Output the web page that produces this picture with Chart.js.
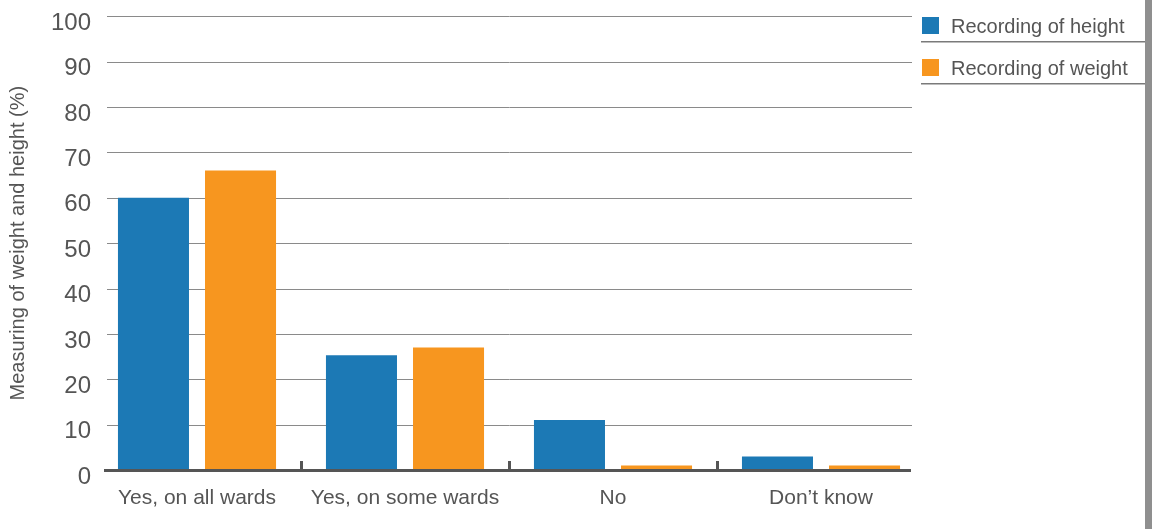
<!DOCTYPE html>
<html>
<head>
<meta charset="utf-8">
<script src="https://cdn.jsdelivr.net/npm/chart.js@4"></script>
<style>
  html, body { margin: 0; padding: 0; background: #fff; }
  #wrap { position: relative; width: 1152px; height: 529px; }
  #sidebar { position: absolute; top: 0; right: 0; width: 7px; height: 529px; background: #8f8f8f; }
</style>
</head>
<body>
<div id="wrap">
  <canvas id="chart" width="1152" height="529"></canvas>
  <div id="sidebar"></div>
</div>
<script>
// Categories and values (percent)
const categories = ['Yes, on all wards', 'Yes, on some wards', 'No', 'Don\u2019t know'];
const heightValues = [60, 25.3, 11, 3];
const weightValues = [66, 27, 1, 1];
const seriesNames = ['Recording of height', 'Recording of weight'];
const yTicks = [0, 10, 20, 30, 40, 50, 60, 70, 80, 90, 100];

const BLUE = '#1c79b5';
const ORANGE = '#f7961f';
const TEXT = '#555555';
const FONT = '"Liberation Sans", Arial, Helvetica, sans-serif';

// grid lines, baseline, separators and legend drawn on the canvas
const decorations = {
    id: 'decorations',
    beforeDatasetsDraw(chart) {
        const ctx = chart.ctx;
        const y = chart.scales.y;
        ctx.save();
        ctx.strokeStyle = '#8a8a8a';
        ctx.lineWidth = 1;
        yTicks.forEach(v => {
            if (v === 0) return;
            const py = Math.round(y.getPixelForValue(v)) + 0.5;
            ctx.beginPath();
            ctx.moveTo(107, py);
            ctx.lineTo(912, py);
            ctx.stroke();
        });
        ctx.restore();
    },
    afterDatasetsDraw(chart) {
        const ctx = chart.ctx;
        const x = chart.scales.x;
        const y = chart.scales.y;
        const base = y.getPixelForValue(0);
        ctx.save();
        // baseline
        ctx.fillStyle = '#555555';
        ctx.fillRect(104, base - 1, 807, 3);
        // separators between categories
        const step = x.getPixelForValue(1) - x.getPixelForValue(0);
        for (let i = 1; i < categories.length; i++) {
            const px = x.getPixelForValue(i) - step / 2;
            ctx.fillRect(Math.round(px) - 1, base - 9, 3, 9);
        }
        ctx.restore();
    },
    afterDraw(chart) {
        const ctx = chart.ctx;
        ctx.save();
        ctx.font = '20px ' + FONT;
        ctx.textBaseline = 'middle';
        chart.data.datasets.forEach((ds, i) => {
            const top = 17 + i * 42;
            ctx.fillStyle = ds.backgroundColor;
            ctx.fillRect(922, top, 17, 17);
            ctx.fillStyle = TEXT;
            ctx.fillText(ds.label, 951, top + 10);
            ctx.fillStyle = '#7a7a7a';
            ctx.fillRect(921, top + 24, 224, 1.5);
        });
        ctx.restore();
    }
};

new Chart(document.getElementById('chart'), {
    type: 'bar',
    data: {
        labels: categories,
        datasets: [
            { label: seriesNames[0], data: heightValues, backgroundColor: BLUE },
            { label: seriesNames[1], data: weightValues, backgroundColor: ORANGE }
        ]
    },
    options: {
        responsive: false,
        animation: false,
        categoryPercentage: 0.837,
        barPercentage: 0.816,
        layout: { padding: { top: 16, right: 227, left: 0, bottom: 0 } },
        plugins: {
            legend: { display: false },
            tooltip: { enabled: false }
        },
        scales: {
            x: {
                grid: { display: false, drawTicks: false },
                border: { display: false },
                ticks: {
                    color: TEXT,
                    font: { family: FONT, size: 21 },
                    padding: 16,
                    maxRotation: 0
                },
                afterFit(scale) { scale.height = 59; }
            },
            y: {
                min: 0,
                max: 100,
                grid: { display: false, drawTicks: false },
                border: { display: false },
                afterBuildTicks(scale) { scale.ticks = yTicks.map(v => ({ value: v })); },
                ticks: {
                    color: TEXT,
                    font: { family: FONT, size: 24 },
                    padding: 2,
                    labelOffset: 7
                },
                title: {
                    display: true,
                    text: 'Measuring of weight and height (%)',
                    color: TEXT,
                    font: { family: FONT, size: 20 },
                    padding: { top: 6, bottom: 0 }
                },
                afterFit(scale) { scale.width = 93; }
            }
        }
    },
    plugins: [decorations]
});
</script>
</body>
</html>
